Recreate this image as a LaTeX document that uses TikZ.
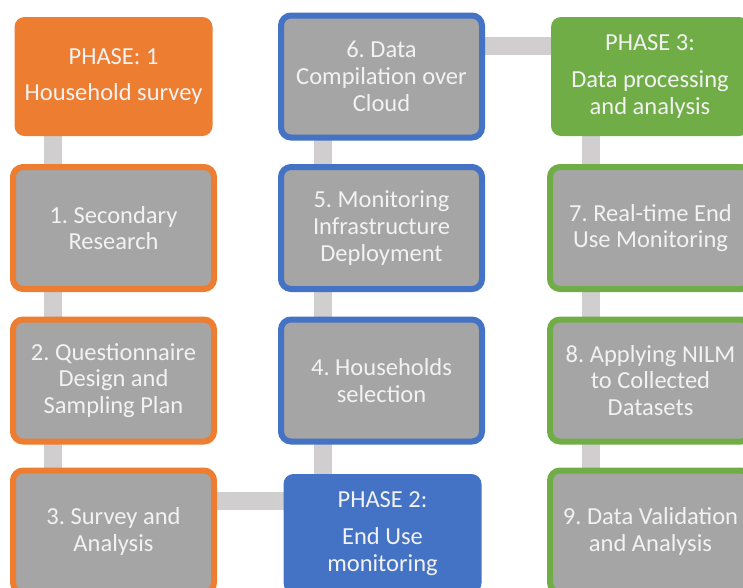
\documentclass[tikz,border=0pt]{standalone}
\usepackage{fontspec}
\setmainfont{Carlito}
\usetikzlibrary{backgrounds}
\definecolor{orng}{HTML}{ED7D31}
\definecolor{blu}{HTML}{4472C4}
\definecolor{grn}{HTML}{70AD47}
\definecolor{boxgray}{HTML}{A5A5A5}
\definecolor{conngray}{HTML}{D0CECE}
\definecolor{txt}{HTML}{F2F2F2}
\tikzset{
  base/.style={rectangle, rounded corners=10pt, align=center, inner sep=0pt, outer sep=0pt,
    text=txt, font=\fontsize{24.5}{26.7}\selectfont\frenchspacing},
  stepbox/.style={base, minimum width=201pt, minimum height=122pt, line width=6pt, fill=boxgray},
  phasebox/.style={base, minimum width=198pt, minimum height=119pt, draw=none},
  conn/.style={draw=conngray, line width=18pt},
}
\begin{document}
\begin{tikzpicture}[x=1pt,y=-1pt]
\useasboundingbox (0,0) rectangle (743,587);
\clip (0,0) rectangle (743,587);
% column 1
\node[phasebox, fill=orng] (p1) at (113.5,76.5) {PHASE: 1\\[10pt]Household survey};
\node[stepbox, draw=orng] (b1) at (113.5,228) {1. Secondary\\Research};
\node[stepbox, draw=orng] (b2) at (113.5,380.5) {2. Questionnaire\\Design and\\Sampling Plan};
\node[stepbox, draw=orng] (b3) at (113.5,531.5) {3. Survey and\\Analysis};
% column 2
\node[stepbox, draw=blu] (b6) at (381.5,76.5) {6. Data\\Compilation over\\Cloud};
\node[stepbox, draw=blu] (b5) at (381.5,228) {5. Monitoring\\Infrastructure\\Deployment};
\node[stepbox, draw=blu] (b4) at (381.5,380.5) {4. Households\\selection};
\node[phasebox, fill=blu] (p2) at (382.5,533.5) {PHASE 2:\\[10pt]End Use\\monitoring};
% column 3
\node[phasebox, fill=grn] (p3) at (650,76.5) {PHASE 3:\\[10pt]Data processing\\and analysis};
\node[stepbox, draw=grn] (b7) at (650.5,228) {7. Real-time End\\Use Monitoring};
\node[stepbox, draw=grn] (b8) at (650.5,380.5) {8. Applying NILM\\to Collected\\Datasets};
\node[stepbox, draw=grn] (b9) at (650.5,531.5) {9. Data Validation\\and Analysis};
% connectors
\begin{scope}[on background layer]
\draw[conn] ([xshift=-60.5pt]p1.center) -- ([xshift=-60.5pt]b1.center);
\draw[conn] ([xshift=-60.5pt]b1.center) -- ([xshift=-60.5pt]b2.center);
\draw[conn] ([xshift=-60.5pt]b2.center) -- ([xshift=-60.5pt]b3.center);
\draw[conn] ([yshift=30.5pt]b3.center) -- ([yshift=30.5pt]b3.center -| p2.center);
\draw[conn] ([xshift=-59pt]b6.center) -- ([xshift=-59pt]b5.center);
\draw[conn] ([xshift=-59pt]b5.center) -- ([xshift=-59pt]b4.center);
\draw[conn] ([xshift=-59pt]b4.center) -- ([xshift=-60pt]p2.center);
\draw[conn] ([yshift=31pt]b6.center) -- ([yshift=31pt]b6.center -| p3.center);
\draw[conn] ([xshift=-59pt]p3.center) -- ([xshift=-59.5pt]b7.center);
\draw[conn] ([xshift=-59.5pt]b7.center) -- ([xshift=-59.5pt]b8.center);
\draw[conn] ([xshift=-59.5pt]b8.center) -- ([xshift=-59.5pt]b9.center);
\end{scope}
\end{tikzpicture}
\end{document}
